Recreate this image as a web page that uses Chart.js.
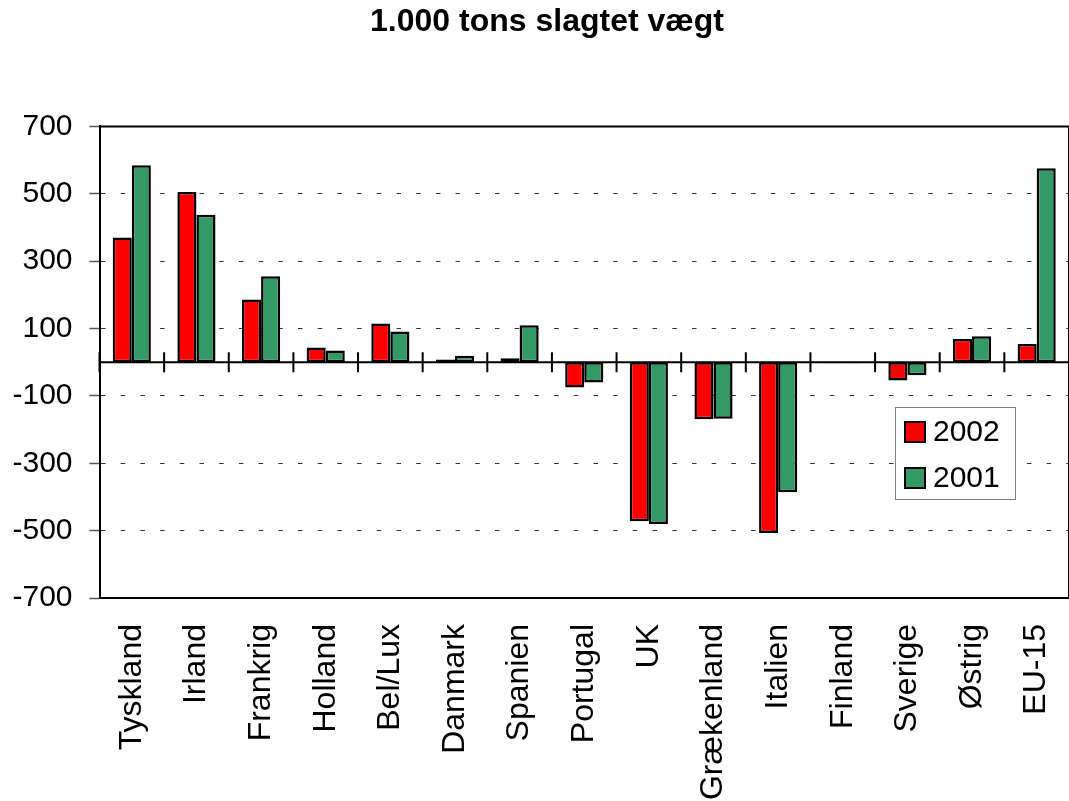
<!DOCTYPE html>
<html><head><meta charset="utf-8">
<script src="https://cdn.jsdelivr.net/npm/chart.js@4/dist/chart.umd.min.js"></script>
<style>
html,body{margin:0;padding:0;background:#fff;overflow:hidden;width:1069px;height:801px}
#wrap{position:absolute;left:0;top:0;width:1102px;height:801px}
</style>
</head><body><div id="wrap"><canvas id="c" width="1102" height="801"></canvas></div>
<script>
const titleText = '1.000 tons slagtet vægt';
const categories = ['Tyskland','Irland','Frankrig','Holland','Bel/Lux','Danmark','Spanien','Portugal','UK','Grækenland','Italien','Finland','Sverige','Østrig','EU-15'];
const seriesNames = ['2002','2001'];
const values2002 = [370,505,186,44,115,8,12,-75,-472,-169,-507,-3,-54,69,54];
const values2001 = [585,438,255,35,91,19,110,-60,-480,-168,-386,-3,-39,77,576];
const yTicks = [-700,-500,-300,-100,100,300,500,700];
const seriesColors = ['#FF0000','#339966'];

const FONT = "'Liberation Sans', Arial, sans-serif";

const overlay = {
  id:'overlay',
  afterDatasetsDraw(chart){
    const {ctx, chartArea:a, scales:{x,y}} = chart;
    const y0 = y.getPixelForValue(0);
    ctx.save();
    ctx.strokeStyle='#000'; ctx.lineWidth=2;
    ctx.beginPath();
    ctx.moveTo(a.left,a.top); ctx.lineTo(a.right,a.top);
    ctx.moveTo(a.right,a.top); ctx.lineTo(a.right,a.bottom);
    ctx.stroke();
    ctx.beginPath(); ctx.moveTo(a.left,y0); ctx.lineTo(a.right,y0); ctx.stroke();
    const n = categories.length;
    ctx.beginPath();
    for(let i=0;i<=n;i++){
      const px = i===0 ? a.left : (i===n ? a.right : (x.getPixelForValue(i-1)+x.getPixelForValue(i))/2);
      ctx.moveTo(px,y0-10); ctx.lineTo(px,y0+10);
    }
    ctx.stroke();
    ctx.restore();
  },
  afterDraw(chart){
    const ctx = chart.ctx;
    const bx=895.5, by=407.5, bw=120, bh=92;
    ctx.save();
    ctx.fillStyle='#fff'; ctx.fillRect(bx,by,bw,bh);
    ctx.strokeStyle='#808080'; ctx.lineWidth=1; ctx.strokeRect(bx,by,bw,bh);
    ctx.font = '30px ' + FONT;
    ctx.textBaseline='middle'; ctx.textAlign='left';
    seriesNames.forEach((name,i)=>{
      const sy = 422 + i*46;
      ctx.fillStyle = seriesColors[i];
      ctx.fillRect(905,sy,20,20);
      ctx.strokeStyle='#000'; ctx.lineWidth=2; ctx.strokeRect(905,sy,20,20);
      ctx.fillStyle='#000';
      ctx.fillText(name, 933, sy+11);
    });
    ctx.restore();
  }
};

new Chart(document.getElementById('c'), {
  type:'bar',
  data:{
    labels:categories,
    datasets:[
      {label:seriesNames[0], data:values2002, backgroundColor:seriesColors[0], borderColor:'#000', borderWidth:2.5, borderSkipped:false, categoryPercentage:0.59, barPercentage:1},
      {label:seriesNames[1], data:values2001, backgroundColor:seriesColors[1], borderColor:'#000', borderWidth:2.5, borderSkipped:false, categoryPercentage:0.59, barPercentage:1}
    ]
  },
  options:{
    responsive:false, animation:false, devicePixelRatio:1,
    layout:{padding:{left:0,right:8,top:0,bottom:0}},
    plugins:{
      legend:{display:false}, tooltip:{enabled:false},
      title:{display:true, text:titleText, color:'#000',
        font:{family:FONT, size:32, weight:'bold', lineHeight:1.2},
        padding:{top:3, bottom:85}}
    },
    scales:{
      x:{
        grid:{display:false, drawTicks:false},
        border:{display:true, color:'#000', width:2},
        ticks:{color:'#000', font:{family:FONT, size:32}, minRotation:90, maxRotation:90, padding:26, autoSkip:false},
        afterFit(s){ s.height = 203; }
      },
      y:{
        min:-700, max:700,
        afterBuildTicks(s){ s.ticks = yTicks.map(v=>({value:v})); },
        grid:{
          color:(c)=> (c.tick && Math.abs(c.tick.value)===700) ? 'rgba(0,0,0,0)' : '#333',
          lineWidth:1, drawTicks:true, tickLength:10, tickColor:'#555', tickWidth:1.5
        },
        border:{display:true, color:'#000', width:2, dash:[4.5,15.2]},
        ticks:{color:'#000', font:{family:FONT, size:30}, padding:17, callback:(v)=>String(v)},
        afterFit(s){ s.width = 99.5; }
      },
      yPad:{
        position:'right', display:true,
        grid:{display:false, drawTicks:false},
        border:{display:false},
        ticks:{display:false},
        afterFit(s){ s.width = 20; }
      }
    }
  },
  plugins:[overlay]
});
</script>
</body></html>
